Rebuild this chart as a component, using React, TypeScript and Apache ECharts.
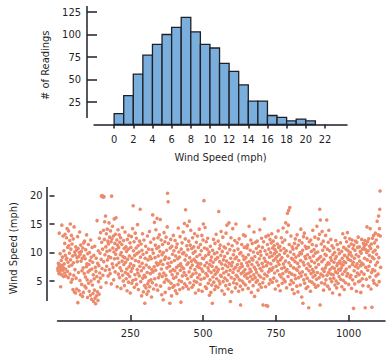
import React, { useEffect, useRef } from "react";
import * as echarts from "echarts";

// Histogram: wind speed bins (mph), width 1
const binStarts = [0, 1, 2, 3, 4, 5, 6, 7, 8, 9, 10, 11, 12, 13, 14, 15, 16, 17, 18, 19, 20];
const binWidth = 1;
const binCounts = [12, 32, 56, 77, 89, 100, 108, 119, 103, 89, 85, 68, 59, 44, 26, 26, 10, 8, 4, 6, 4];
const histXTicks = [0, 2, 4, 6, 8, 10, 12, 14, 16, 18, 20, 22];
const histYTicks = [25, 50, 75, 100, 125];

// Time series of wind speed (mph), one reading per time step
const windA = [
  7.2, 6.8, 8.1, 7.5, 6.3, 13.4, 7.9, 6.6, 9.8, 7.0,
  4.0, 7.4, 8.6, 6.1, 14.8, 7.7, 9.2, 6.9, 12.9, 7.3,
  5.8, 10.3, 8.0, 6.4, 11.6, 13.2, 9.5, 7.1, 5.9, 8.8,
  12.6, 9.0, 14.2, 6.7, 10.9, 8.3, 5.6, 13.8, 11.2, 7.6,
  9.9, 12.1, 6.2, 15.0, 8.7, 10.6, 4.8, 13.0, 7.8, 11.5,
  5.3, 9.4, 3.5, 12.4, 8.2, 6.0, 14.5, 3.1, 10.1, 7.0,
  9.6, 2.9, 11.0, 5.5, 10.4, 3.6, 9.1, 8.4, 12.8, 1.2,
  10.7, 6.5, 9.3, 3.3, 10.0, 13.6, 5.1, 9.7, 2.6, 11.3,
  8.5, 10.2, 4.4, 6.8, 9.0, 2.3, 10.8, 7.3, 3.0, 11.7,
  9.4, 6.3, 12.0, 4.1, 8.9, 5.7, 10.5, 3.8, 7.5, 13.1,
  8.0, 5.2, 2.1, 9.8, 6.6, 11.4, 4.6, 7.9, 3.2, 10.0,
  6.9, 8.6, 2.5, 12.2, 5.0, 9.2, 1.8, 7.1, 10.9, 4.3,
  8.3, 2.8, 6.1, 1.4, 9.5, 5.4, 3.4, 11.1, 2.0, 7.4,
  1.0, 6.7, 9.0, 2.4, 5.8, 15.6, 3.1, 8.1, 1.6, 10.3,
  4.9, 7.7, 2.7, 12.5, 6.4, 9.9, 5.5, 13.5, 3.9, 8.8,
  19.9, 11.8, 7.2, 20.0, 10.6, 6.0, 19.7, 13.9, 8.4, 19.8,
  12.3, 15.4, 9.6, 6.9, 16.4, 11.0, 4.7, 13.3, 7.6, 10.2,
  14.1, 8.7, 12.0, 5.9, 11.5, 9.3, 15.2, 7.0, 12.7, 10.4,
  6.3, 13.8, 9.1, 11.9, 4.5, 19.9, 12.4, 8.0, 14.6, 10.8,
  7.4, 12.9, 5.2, 10.1, 15.9, 8.9, 11.6, 6.6, 13.2, 9.7,
];
const windB = [
  16.1, 10.5, 7.8, 12.2, 4.0, 11.3, 9.0, 14.0, 6.2, 10.9,
  8.2, 13.1, 5.6, 11.8, 7.3, 9.6, 12.6, 3.7, 10.0, 6.8,
  11.4, 8.5, 14.4, 6.0, 9.3, 5.0, 12.1, 7.9, 10.7, 4.2,
  9.1, 13.6, 6.5, 8.3, 11.0, 5.4, 10.2, 7.1, 3.3, 12.3,
  8.8, 6.2, 10.6, 4.8, 13.0, 7.5, 9.4, 5.8, 11.7, 2.9,
  8.0, 10.9, 6.7, 12.8, 4.6, 9.0, 7.2, 14.2, 5.1, 18.2,
  10.3, 7.7, 11.9, 3.9, 9.5, 6.1, 13.4, 8.6, 5.3, 10.8,
  12.5, 4.4, 9.8, 7.0, 14.9, 6.4, 11.2, 3.5, 8.4, 10.1,
  5.9, 12.0, 7.6, 17.6, 9.2, 4.9, 11.5, 6.8, 2.4, 10.4,
  8.1, 13.3, 5.5, 9.7, 3.1, 7.3, 12.2, 6.0, 4.2, 1.1,
  9.0, 5.7, 11.1, 3.8, 7.8, 10.0, 2.7, 6.5, 12.9, 4.5,
  8.7, 3.2, 10.6, 5.0, 7.4, 13.7, 4.0, 9.3, 6.3, 11.8,
  5.2, 8.9, 2.2, 7.0, 10.5, 4.7, 16.6, 6.6, 9.9, 3.6,
  12.4, 7.5, 15.3, 5.4, 9.1, 11.3, 6.9, 14.0, 4.3, 8.2,
  10.7, 16.0, 7.8, 3.4, 12.6, 9.4, 5.6, 11.0, 8.0, 13.1,
  6.2, 10.2, 15.8, 4.1, 8.5, 12.2, 7.1, 2.6, 9.6, 5.8,
  11.4, 7.9, 1.7, 10.0, 6.4, 13.5, 4.8, 8.8, 11.9, 3.0,
  9.2, 6.0, 12.7, 5.3, 10.4, 7.3, 14.5, 20.4, 8.1, 18.9,
  11.6, 5.0, 9.0, 3.7, 7.6, 1.1, 10.8, 6.7, 12.3, 4.6,
  8.3, 2.4, 11.1, 6.1, 9.7, 3.9, 7.0, 13.0, 5.5, 10.3,
];
const windC = [
  4.2, 8.6, 6.8, 12.1, 3.3, 9.4, 5.7, 10.9, 7.4, 2.8,
  11.5, 6.3, 8.9, 4.4, 14.3, 7.7, 10.1, 5.1, 9.2, 3.5,
  12.8, 6.9, 8.0, 1.3, 10.6, 4.9, 7.5, 11.7, 5.9, 9.8,
  3.8, 13.6, 7.2, 10.0, 6.5, 15.1, 4.5, 8.7, 12.4, 17.5,
  6.0, 9.5, 4.1, 11.2, 7.9, 14.7, 5.4, 10.5, 8.2, 3.6,
  12.0, 6.6, 15.5, 9.1, 4.7, 11.3, 7.3, 13.9, 5.8, 8.5,
  10.7, 3.9, 7.8, 12.6, 6.2, 9.9, 4.3, 11.0, 8.8, 5.0,
  13.3, 7.0, 10.2, 2.9, 8.4, 6.4, 11.8, 4.8, 9.3, 7.6,
  12.9, 5.6, 8.1, 10.9, 3.4, 7.4, 14.1, 6.1, 9.6, 4.4,
  11.4, 8.0, 5.3, 10.3, 7.1, 13.0, 3.2, 9.0, 6.7, 12.2,
  15.0, 8.9, 19.1, 5.5, 10.8, 7.7, 14.4, 4.0, 9.4, 6.3,
  11.9, 3.7, 8.2, 10.6, 5.9, 12.5, 7.3, 4.6, 9.7, 6.8,
  10.1, 2.5, 7.9, 5.2, 11.1, 8.6, 3.0, 6.5, 9.2, 4.3,
  7.6, 1.1, 10.4, 5.7, 8.3, 12.3, 4.8, 6.9, 9.8, 3.5,
  11.6, 6.2, 8.8, 4.1, 13.2, 7.4, 5.4, 10.0, 6.6, 9.1,
  3.9, 12.0, 7.0, 17.2, 5.0, 10.7, 8.4, 4.5, 11.3, 6.0,
  9.5, 13.7, 5.8, 8.0, 3.3, 10.2, 7.2, 12.7, 4.9, 8.7,
  6.4, 11.0, 2.7, 9.3, 5.5, 7.8, 10.8, 4.2, 13.4, 6.7,
  8.5, 14.8, 5.1, 9.9, 7.5, 3.6, 11.5, 6.1, 15.2, 8.1,
  4.4, 10.5, 6.9, 1.4, 9.0, 12.6, 5.6, 7.7, 3.1, 11.2,
];
const windD = [
  8.3, 14.2, 6.5, 9.6, 4.7, 7.1, 10.3, 5.3, 12.1, 8.9,
  3.8, 7.4, 15.0, 6.0, 9.2, 4.5, 11.7, 7.9, 5.7, 10.6,
  6.8, 3.2, 8.6, 12.4, 5.2, 9.8, 7.3, 4.1, 0.8, 10.0,
  6.3, 8.0, 11.4, 5.0, 7.6, 3.5, 9.4, 6.6, 13.1, 4.6,
  8.8, 10.9, 5.9, 7.0, 12.9, 4.3, 9.1, 6.2, 11.0, 8.2,
  10.8, 5.5, 11.3, 7.7, 3.7, 9.6, 6.4, 14.6, 8.4, 4.9,
  7.1, 10.4, 5.8, 12.2, 6.7, 3.0, 9.0, 7.9, 11.6, 5.3,
  8.7, 4.2, 10.1, 6.1, 13.6, 7.4, 2.3, 9.3, 5.6, 11.8,
  7.0, 4.8, 10.7, 6.5, 8.3, 12.0, 5.1, 9.9, 3.4, 7.8,
  11.1, 6.0, 8.9, 4.4, 14.0, 7.2, 10.2, 5.7, 9.5, 3.9,
  12.5, 6.8, 8.1, 10.9, 4.7, 0.8, 7.5, 11.9, 5.4, 9.0,
  15.9, 6.2, 10.3, 8.5, 4.0, 12.8, 0.7, 7.7, 9.7, 5.9,
  11.4, 0.6, 8.2, 13.0, 6.6, 10.6, 4.5, 9.2, 7.1, 12.3,
  5.2, 10.0, 8.0, 11.7, 6.9, 13.3, 9.4, 4.8, 10.8, 7.3,
  12.0, 8.6, 5.5, 11.2, 9.8, 6.4, 10.5, 3.6, 8.9, 12.7,
  7.6, 10.1, 5.0, 9.3, 11.5, 6.8, 8.4, 13.8, 4.2, 10.9,
  7.9, 9.6, 6.1, 11.1, 3.3, 8.7, 10.4, 5.7, 12.6, 7.2,
  9.1, 4.6, 11.8, 6.3, 14.3, 8.0, 5.3, 10.7, 7.4, 9.9,
  12.2, 4.9, 8.5, 15.2, 6.7, 10.3, 3.8, 13.6, 7.0, 16.9,
  9.4, 5.8, 14.8, 17.4, 8.2, 11.4, 6.5, 17.9, 4.4, 10.1,
];
const windE = [
  7.7, 12.9, 5.1, 9.0, 6.2, 11.0, 3.5, 8.8, 10.6, 4.7,
  7.3, 9.7, 2.8, 11.6, 6.0, 8.4, 12.4, 5.4, 9.2, 7.1,
  10.8, 4.1, 13.1, 6.9, 8.1, 3.1, 11.3, 5.6, 9.5, 7.5,
  12.1, 6.4, 10.0, 4.3, 8.6, 14.1, 5.9, 9.8, 2.2, 11.7,
  6.6, 10.4, 1.1, 8.3, 12.8, 5.2, 7.8, 13.4, 4.6, 9.3,
  11.1, 6.1, 8.9, 3.7, 10.7, 7.2, 12.5, 5.5, 9.6, 4.0,
  8.0, 10.9, 0.3, 6.8, 11.9, 5.0, 9.1, 7.6, 3.2, 12.2,
  6.3, 10.2, 8.5, 4.8, 11.4, 7.0, 13.9, 5.7, 9.4, 6.6,
  10.5, 4.4, 8.2, 12.7, 6.0, 9.9, 3.9, 7.4, 11.2, 5.3,
  14.6, 8.7, 6.5, 10.1, 4.2, 12.4, 7.9, 9.0, 5.6, 13.2,
  17.6, 0.8, 15.7, 9.3, 6.2, 11.5, 4.7, 8.4, 13.7, 7.1,
  10.4, 5.9, 12.0, 3.4, 8.8, 6.7, 11.0, 4.5, 9.7, 7.3,
  13.0, 5.2, 9.5, 7.8, 15.7, 6.0, 10.6, 4.1, 8.2, 11.8,
  6.5, 13.9, 8.0, 3.6, 10.3, 7.0, 5.4, 9.1, 12.3, 6.2,
  8.6, 4.9, 11.2, 7.4, 2.9, 9.6, 6.1, 10.8, 5.5, 8.3,
  7.2, 10.0, 4.3, 8.9, 6.6, 12.1, 5.0, 9.3, 3.8, 7.7,
  11.4, 6.4, 8.1, 4.6, 10.5, 7.0, 5.8, 9.8, 2.6, 8.5,
  6.9, 11.7, 5.3, 8.0, 7.3, 10.2, 4.0, 9.0, 6.2, 13.3,
  7.8, 5.1, 10.9, 8.4, 3.5, 9.5, 6.7, 12.6, 4.7, 8.2,
  10.6, 7.1, 11.9, 5.9, 9.2, 13.5, 6.3, 10.3, 8.8, 4.4,
];
const windF = [
  11.1, 9.7, 7.5, 12.4, 5.6, 10.0, 8.6, 6.0, 11.5, 3.7,
  9.4, 12.2, 7.9, 5.2, 10.7, 8.3, 0.2, 11.3, 6.8, 9.0,
  4.5, 10.4, 7.6, 12.0, 5.8, 9.6, 3.2, 11.8, 8.0, 6.4,
  10.9, 7.3, 12.7, 4.9, 9.3, 6.1, 11.0, 8.5, 5.0, 10.2,
  7.7, 3.0, 9.9, 6.6, 12.3, 8.1, 5.4, 10.6, 4.2, 7.9,
  11.6, 10.8, 6.2, 11.2, 9.0, 12.1, 0.3, 10.5, 7.4, 11.4,
  5.3, 10.0, 14.5, 8.7, 11.9, 6.9, 10.3, 4.1, 12.4, 7.6,
  9.5, 11.1, 5.7, 14.2, 8.4, 10.7, 3.6, 11.5, 6.5, 0.4,
  9.2, 12.5, 7.0, 10.1, 5.1, 13.0, 8.9, 4.6, 11.7, 6.8,
  10.4, 13.4, 7.8, 5.9, 12.2, 9.7, 4.3, 15.5, 8.3, 11.0,
  6.2, 13.1, 16.4, 9.1, 4.9, 14.2, 17.6, 20.8, 12.9, 7.4,
];
const windSpeed = [...windA, ...windB, ...windC, ...windD, ...windE, ...windF];
const scatterYTicks = [5, 10, 15, 20];
const scatterXTicks = [250, 500, 750, 1000];

const FONT = "'Liberation Sans Narrow', 'Arial Narrow', 'DejaVu Sans Condensed', 'Liberation Sans', sans-serif";
const INK = "#1f1f2a";

export default function App() {
  const ref = useRef<HTMLDivElement>(null);
  useEffect(() => {
    if (!ref.current) return;
    const chart = echarts.init(ref.current, undefined, { renderer: "svg" });
    const histData = binStarts.map((s, i) => [s, s + binWidth, binCounts[i]]);
    const scatterData = windSpeed.map((v, i) => [i + 1, v]);
    const labelStyle = { color: INK, fontFamily: FONT, fontSize: 11 };
    const plain = (v: number) => String(v);
    chart.setOption({
      animation: false,
      backgroundColor: "#ffffff",
      grid: [
        { left: 94, top: 6, width: 253, height: 118.5 },
        { left: 55, top: 187, width: 330, height: 122.5 },
      ],
      xAxis: [
        {
          gridIndex: 0,
          type: "value",
          min: -2.1,
          max: 24.3,
          splitLine: { show: false },
          axisLine: { show: true, onZero: false, lineStyle: { color: INK, width: 1.5 } },
          axisTick: { show: true, inside: false, length: 4, lineStyle: { color: INK, width: 1.5 }, customValues: histXTicks },
          axisLabel: { ...labelStyle, margin: 9, customValues: histXTicks, formatter: plain },
          name: "Wind Speed (mph)",
          nameLocation: "middle",
          nameGap: 27,
          nameTextStyle: labelStyle,
        },
        {
          gridIndex: 1,
          type: "value",
          min: 0,
          max: 1125,
          offset: 11.5,
          splitLine: { show: false },
          axisLine: { show: true, onZero: false, lineStyle: { color: INK, width: 1.5 } },
          axisTick: { show: true, inside: true, length: 6, lineStyle: { color: INK, width: 1.5 }, customValues: scatterXTicks },
          axisLabel: { ...labelStyle, margin: 7, customValues: scatterXTicks, formatter: plain },
          name: "Time",
          nameLocation: "middle",
          nameGap: 24,
          nameTextStyle: labelStyle,
        },
      ],
      yAxis: [
        {
          gridIndex: 0,
          type: "value",
          min: 0,
          max: 131.7,
          offset: 7,
          splitLine: { show: false },
          axisLine: { show: true, onZero: false, lineStyle: { color: INK, width: 1.5, opacity: 0 } },
          axisTick: { show: true, inside: true, length: 10, lineStyle: { color: INK, width: 1.5 }, customValues: histYTicks },
          axisLabel: { ...labelStyle, margin: 6, customValues: histYTicks, formatter: plain },
          name: "# of Readings",
          nameLocation: "middle",
          nameGap: 26,
          nameTextStyle: labelStyle,
        },
        {
          gridIndex: 1,
          type: "value",
          min: 0,
          max: 21.5,
          offset: 8,
          splitLine: { show: false },
          axisLine: { show: true, onZero: false, lineStyle: { color: INK, width: 1.5, opacity: 0 } },
          axisTick: { show: true, inside: true, length: 5, lineStyle: { color: INK, width: 1.5 }, customValues: scatterYTicks },
          axisLabel: { ...labelStyle, margin: 7, customValues: scatterYTicks, formatter: plain },
          name: "Wind Speed (mph)",
          nameLocation: "middle",
          nameGap: 24,
          nameTextStyle: labelStyle,
        },
      ],
      graphic: [
        { type: "line", shape: { x1: 87, y1: 6, x2: 87, y2: 118 }, style: { stroke: INK, lineWidth: 1.5 } },
        { type: "line", shape: { x1: 47, y1: 187, x2: 47, y2: 301 }, style: { stroke: INK, lineWidth: 1.5 } },
      ],
      series: [
        {
          type: "custom",
          xAxisIndex: 0,
          yAxisIndex: 0,
          data: histData,
          encode: { x: [0, 1], y: 2 },
          renderItem: (_params: any, api: any) => {
            const p0 = api.coord([api.value(0), api.value(2)]);
            const p1 = api.coord([api.value(1), 0]);
            return {
              type: "rect",
              shape: { x: p0[0], y: p0[1], width: p1[0] - p0[0], height: p1[1] - p0[1] },
              style: { fill: "#7aafdd", stroke: "#1f1f26", lineWidth: 1.3 },
            };
          },
        },
        {
          type: "scatter",
          xAxisIndex: 1,
          yAxisIndex: 1,
          data: scatterData,
          symbol: "circle",
          symbolSize: 3.6,
          itemStyle: { color: "#ec8a6c", opacity: 1 },
        },
      ],
    });
    return () => chart.dispose();
  }, []);
  return (
    <div
      ref={ref}
      style={{ position: "fixed", left: 0, top: 0, width: 390, height: 360, background: "#fff" }}
    />
  );
}
